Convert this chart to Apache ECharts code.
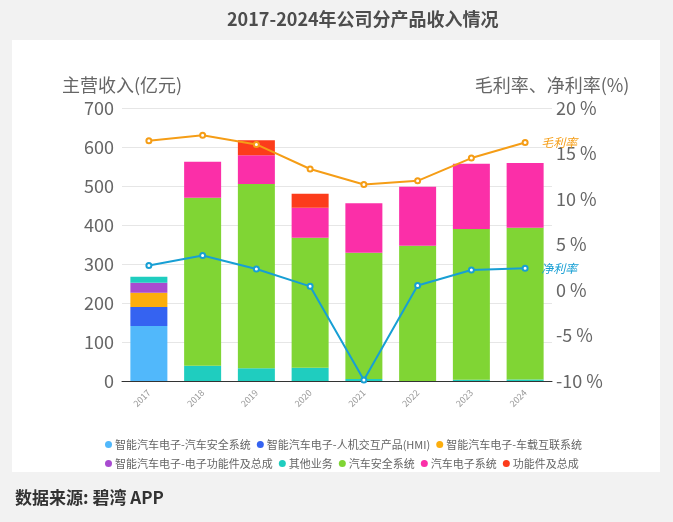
<!DOCTYPE html>
<html>
<head>
<meta charset="utf-8">
<script src="https://cdn.jsdelivr.net/npm/echarts@6/dist/echarts.min.js"></script>
<style>
  html, body { margin: 0; padding: 0; background: #f2f2f2; }
  #chart { width: 673px; height: 522px; }
</style>
</head>
<body>
<div id="chart"></div>
<script>
// 年份
var years = ['2017', '2018', '2019', '2020', '2021', '2022', '2023', '2024'];

// 收入（亿元），自下而上堆叠
var ieSafety = [141, 0, 0, 0, 0, 0, 0, 0];   // 智能汽车电子-汽车安全系统
var ieHmi = [49, 0, 0, 0, 0, 0, 0, 0];       // 智能汽车电子-人机交互产品(HMI)
var ieConnect = [36, 0, 0, 0, 0, 0, 0, 0];   // 智能汽车电子-车载互联系统
var ieFunc = [26, 0, 0, 0, 0, 0, 0, 0];      // 智能汽车电子-电子功能件及总成
var other = [15, 39, 33, 34, 5, 0, 3, 4];    // 其他业务
var safety = [0, 431, 472, 333, 324, 347, 387, 389]; // 汽车安全系统
var electronics = [0, 92, 74, 77, 127, 151, 167, 166]; // 汽车电子系统
var funcParts = [0, 0, 38, 36, 0, 0, 0, 0];  // 功能件及总成

// 利润率（%）
var grossMargin = [16.4, 17.0, 16.0, 13.3, 11.6, 12.0, 14.5, 16.2];
var netMargin = [2.7, 3.8, 2.3, 0.4, -9.9, 0.5, 2.2, 2.4];

var chart = echarts.init(document.getElementById('chart'));

var font = '"Noto Sans CJK SC", "Noto Sans", sans-serif';

function bar(name, data, color) {
  return {
    name: name,
    type: 'bar',
    stack: 'rev',
    barWidth: 37,
    data: data,
    itemStyle: { color: color }
  };
}

function line(name, data, color) {
  return {
    name: name,
    type: 'line',
    yAxisIndex: 1,
    data: data,
    symbol: 'emptyCircle',
    symbolSize: 5,
    lineStyle: { color: color, width: 2 },
    itemStyle: { color: color },
    endLabel: {
      show: true,
      formatter: name,
      color: color,
      fontStyle: 'italic',
      fontSize: 12,
      distance: 16,
      fontFamily: font
    },
    z: 5
  };
}

chart.setOption({
  backgroundColor: '#f2f2f2',
  textStyle: { fontFamily: font },
  title: {
    text: '2017-2024年公司分产品收入情况',
    left: 222,
    top: 5,
    textStyle: { fontSize: 18, fontWeight: 'bold', color: '#4d4d4d', fontFamily: font }
  },
  graphic: [{
    type: 'rect',
    z: -10,
    shape: { x: 12, y: 40, width: 648, height: 432 },
    style: { fill: '#ffffff' }
  }, {
    type: 'text',
    left: 15,
    top: 489,
    style: { text: '数据来源: 碧湾 APP', fontSize: 17, fontWeight: 'bold', fill: '#333', fontFamily: font }
  }],
  legend: {
    data: ['智能汽车电子-汽车安全系统', '智能汽车电子-人机交互产品(HMI)', '智能汽车电子-车载互联系统',
      '智能汽车电子-电子功能件及总成', '其他业务', '汽车安全系统', '汽车电子系统', '功能件及总成'],
    left: 100,
    right: 80,
    top: 438,
    icon: 'circle',
    itemWidth: 7,
    itemHeight: 7,
    itemGap: 6,
    padding: [0, 5],
    textStyle: { fontSize: 11, lineHeight: 13, color: '#666', fontFamily: font, padding: [0, 0, 0, -2] }
  },
  grid: { left: 122, right: 121, top: 108, bottom: 141 },
  xAxis: {
    type: 'category',
    data: years,
    axisTick: { show: false },
    axisLine: { lineStyle: { color: '#333' } },
    axisLabel: { rotate: 45, fontSize: 9, color: '#999', margin: 10 }
  },
  yAxis: [{
    type: 'value',
    name: '主营收入(亿元)',
    nameGap: 14,
    nameTextStyle: { fontSize: 18, color: '#666' },
    min: 0,
    max: 700,
    interval: 100,
    axisLabel: { fontSize: 18, color: '#666', margin: 8 },
    splitLine: { lineStyle: { color: '#e6e6e6' } }
  }, {
    type: 'value',
    name: '毛利率、净利率(%)',
    nameGap: 14,
    nameTextStyle: { fontSize: 18, color: '#666' },
    min: -10,
    max: 20,
    interval: 5,
    axisLabel: { fontSize: 18, color: '#666', margin: 4, formatter: '{value} %' },
    splitLine: { show: false },
    axisLine: { show: false },
    axisTick: { show: false }
  }],
  series: [
    bar('智能汽车电子-汽车安全系统', ieSafety, '#51b8fb'),
    bar('智能汽车电子-人机交互产品(HMI)', ieHmi, '#3563f1'),
    bar('智能汽车电子-车载互联系统', ieConnect, '#fcae0d'),
    bar('智能汽车电子-电子功能件及总成', ieFunc, '#a84bd0'),
    bar('其他业务', other, '#1fcdbf'),
    bar('汽车安全系统', safety, '#80d534'),
    bar('汽车电子系统', electronics, '#fb2fa8'),
    bar('功能件及总成', funcParts, '#fc3c1b'),
    line('毛利率', grossMargin, '#f59d16'),
    line('净利率', netMargin, '#179fd4')
  ]
});
</script>
</body>
</html>
